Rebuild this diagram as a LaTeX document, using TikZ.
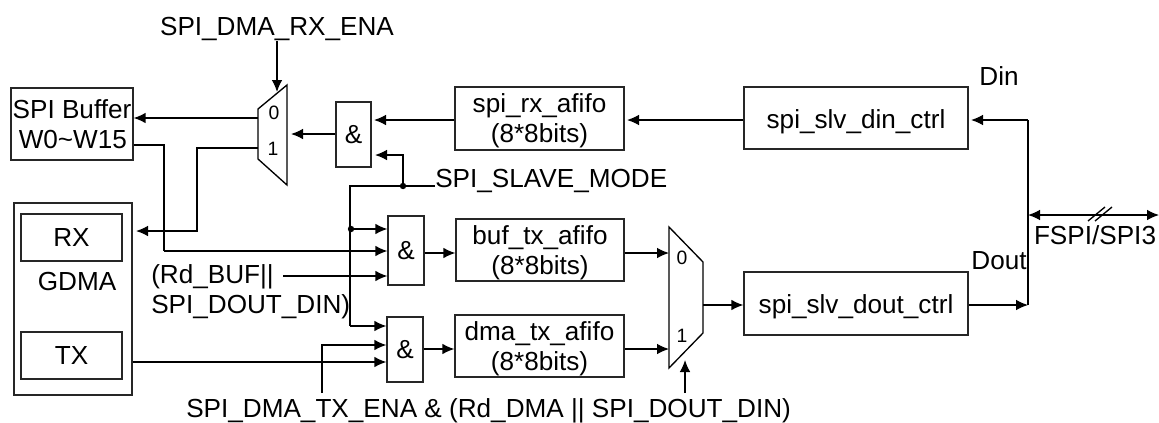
\documentclass[tikz,border=0pt]{standalone}
\usepackage{fontspec}
\setmainfont{Liberation Sans}
\usetikzlibrary{arrows.meta}
\tikzset{
  blk/.style={draw=black!85,line width=0.95pt,inner sep=0pt,font=\fontsize{19.6}{22.5}\selectfont,align=center},
  lbl/.style={inner sep=0pt,font=\fontsize{19.6}{22.5}\selectfont,align=left},
  sm/.style={inner sep=0pt,font=\fontsize{14.5}{16}\selectfont},
  wire/.style={line width=1pt,-{Latex[length=9pt,width=8pt]}},
  plain/.style={line width=1pt},
  both/.style={line width=1pt,{Latex[length=9pt,width=8pt]}-{Latex[length=9pt,width=8pt]}},
  mux/.style={draw=black,line width=1pt}
}
\newcommand{\twol}[2]{\raisebox{-2.6pt}[\height][\depth]{\begin{tabular}{@{}c@{}}#1\\#2\end{tabular}}}
\newcommand{\onel}[1]{\raisebox{-2.6pt}[\height][\depth]{#1}}
\begin{document}
\begin{tikzpicture}[x=0.75pt,y=-0.75pt]
\useasboundingbox (0,0) rectangle (1159,422);
\node[blk,minimum width=122*.75pt,minimum height=72*.75pt,align=right] (buf) at (72,124) {SPI Buffer\\W0\textasciitilde W15\,};
\node[blk,minimum width=118*.75pt,minimum height=192*.75pt] (gdma) at (73,299) {};
\node[blk,minimum width=101*.75pt,minimum height=47*.75pt] (rx) at (71.5,237.5) {RX};
\node[blk,minimum width=101*.75pt,minimum height=47*.75pt] (tx) at (71.5,355.5) {TX};
\node[lbl] (gl) at (77,281) {GDMA};
\draw[mux] (287,85)--(258,109)--(258,159)--(287,185)--cycle;
\node[sm] (m0) at (274,113) {0};
\node[sm] (m1) at (273,149) {1};
\draw[mux] (669,227)--(703,262)--(703,333)--(669,368)--cycle;
\node[sm] (n0) at (682,258) {0};
\node[sm] (n1) at (682,336) {1};
\node[blk,minimum width=35*.75pt,minimum height=65*.75pt] (a1) at (353.5,134.5) {\&};
\node[blk,minimum width=36*.75pt,minimum height=69*.75pt] (a2) at (406,250.5) {\&};
\node[blk,minimum width=36*.75pt,minimum height=65*.75pt] (a3) at (405,349.5) {\&};
\node[blk,minimum width=169*.75pt,minimum height=63*.75pt] (rxf) at (539.5,118.5) {\twol{spi\_rx\_afifo}{(8*8bits)}};
\node[blk,minimum width=168*.75pt,minimum height=62*.75pt] (bf) at (540,250) {\twol{buf\_tx\_afifo}{(8*8bits)}};
\node[blk,minimum width=169*.75pt,minimum height=62*.75pt] (df) at (539.5,346) {\twol{dma\_tx\_afifo}{(8*8bits)}};
\node[blk,minimum width=224*.75pt,minimum height=62*.75pt] (din) at (856,118) {\onel{spi\_slv\_din\_ctrl}};
\node[blk,minimum width=224*.75pt,minimum height=63*.75pt] (dout) at (856,303.5) {\onel{spi\_slv\_dout\_ctrl}};
\node[lbl] (t1) at (277,29) {SPI\_DMA\_RX\_ENA};
\node[lbl,anchor=west] (t2) at (435,181) {SPI\_SLAVE\_MODE};
\node[lbl,anchor=west] (t3) at (151,292) {(Rd\_BUF||\\SPI\_DOUT\_DIN)};
\node[lbl,anchor=west] (t4) at (186,410.5) {SPI\_DMA\_TX\_ENA \& (Rd\_DMA || SPI\_DOUT\_DIN)};
\node[lbl] (t5) at (999,76) {Din};
\node[lbl] (t6) at (999,261) {Dout};
\node[lbl] (t7) at (1095,235) {FSPI/SPI3};
\coordinate (j) at (1028,215);
\coordinate (e) at (1159,215);
\draw[wire] (277,41)--(277,92);
\draw[wire] (258,118)--(buf.east|-0,118);
\draw[plain] (buf.east|-0,145)--(164,145)--(164,251);
\draw[wire] (164,251)--(a2.west|-0,251);
\draw[wire] (258,148)--(197,148)--(197,231)--(136,231);
\draw[wire] (a1.west|-0,134)--(291,134);
\draw[wire] (rxf.west|-0,120)--(374,120);
\draw[wire] (din.west|-0,120)--(627,120);
\draw[wire] (1028,120)--(971,120);
\draw[plain] (1028,120)--(1028,305);
\draw[wire] (dout.east|-0,305)--(1028,305);
\draw[both] (j)--(e);
\draw[plain] (1088,221)--(1105,207) (1095,221)--(1112,207);
\draw[wire] (403,186)--(403,155)--(375,155);
\draw[plain] (t2.west|-0,186)--(350,186)--(350,326);
\fill (403,186) circle (3.2pt*0.75);
\fill (351,229) circle (3.2pt*0.75);
\draw[wire] (351,229)--(a2.west|-0,229);
\draw[wire] (350,326)--(a3.west|-0,326);
\draw[wire] (283,276)--(a2.west|-0,276);
\draw[wire] (322,393)--(322,345)--(a3.west|-0,345);
\draw[wire] (gdma.east|-0,362)--(a3.west|-0,362);
\draw[wire] (a2.east|-0,253)--(bf.west|-0,253);
\draw[wire] (a3.east|-0,349)--(df.west|-0,349);
\draw[wire] (bf.east|-0,253)--(669,253);
\draw[wire] (df.east|-0,349)--(669,349);
\draw[wire] (703,305)--(dout.west|-0,305);
\draw[wire] (685,393)--(685,360);
\end{tikzpicture}
\end{document}
